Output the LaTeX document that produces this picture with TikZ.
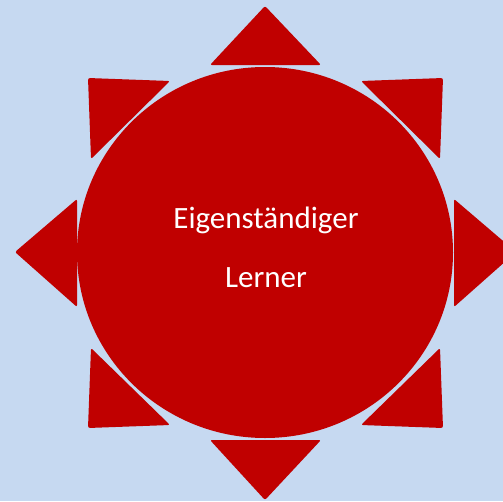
\documentclass[tikz,border=0pt]{standalone}
\usepackage{fontspec}
\setmainfont{Carlito}
\usepackage{xcolor}
\usepackage{tikz}
\definecolor{skyback}{RGB}{198, 217, 241}
\definecolor{sunred}{RGB}{192, 0, 0}
\tikzset{
    ray/.style={fill=sunred, rounded corners=2pt},
    sunlabel/.style={white, anchor=base, font=\fontsize{31}{37}\selectfont}
}

\begin{document}
\begin{tikzpicture}[x=1pt, y=-1pt]
    % Background
    \fill[skyback] (0, 0) rectangle (503, 501);
    \useasboundingbox (0, 0) rectangle (503, 501);

    % Straight rays
    \fill[ray] (265, 6) -- (321, 65) -- (210, 65) -- cycle;
    \fill[ray] (265, 500) -- (321, 440) -- (210, 440) -- cycle;
    \fill[ray] (15, 252) -- (77, 199) -- (77, 307) -- cycle;
    \fill[ray] (516, 252) -- (454, 199) -- (454, 307) -- cycle;

    % Corner rays
    \fill[ray] (88, 78) -- (170, 81) -- (91, 159) -- cycle;
    \fill[ray] (443, 78) -- (361, 81) -- (440, 159) -- cycle;
    \fill[ray] (88, 428) -- (91, 348) -- (170, 425) -- cycle;
    \fill[ray] (443, 428) -- (440, 348) -- (361, 425) -- cycle;

    % Sun
    \fill[sunred] (265, 252.5) ellipse [x radius=188, y radius=185.5];

    % Label
    \node[sunlabel] (line1) at (266, 228) {Eigenständiger};
    \node[sunlabel] (line2) at (266, 287) {Lerner};
\end{tikzpicture}
\end{document}
